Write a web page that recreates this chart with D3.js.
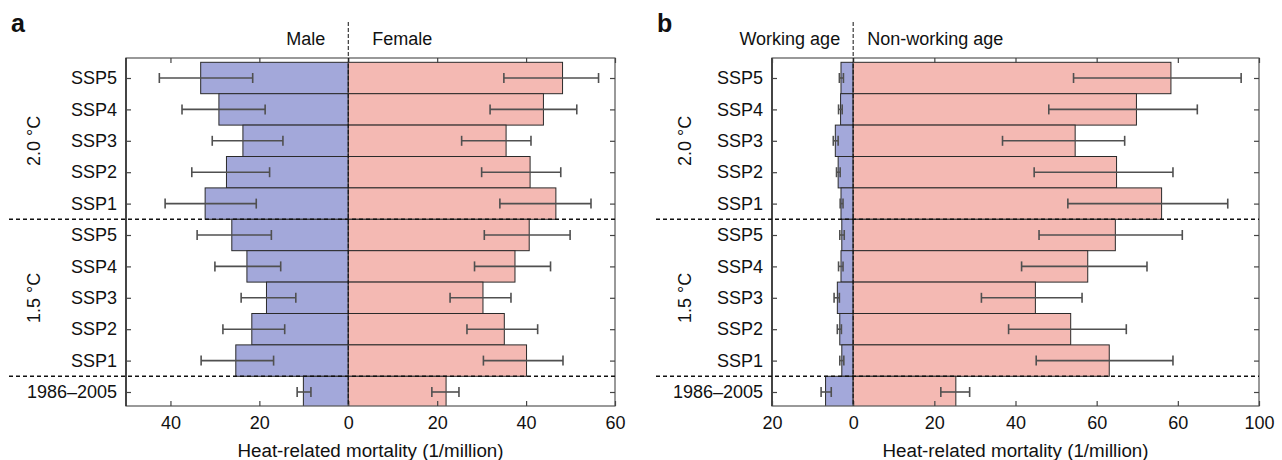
<!DOCTYPE html>
<html><head><meta charset="utf-8">
<script src="https://cdn.jsdelivr.net/npm/d3@7/dist/d3.min.js"></script>
<style>
html,body{margin:0;padding:0;background:#fff;}
svg{display:block;font-family:"Liberation Sans",Arial,Helvetica,sans-serif;}
</style></head>
<body>
<svg id="chart" width="1282" height="460"></svg>
<script>
// ---- data ----
const rows = ["SSP5","SSP4","SSP3","SSP2","SSP1","SSP5","SSP4","SSP3","SSP2","SSP1","1986–2005"];
const groups = ["2.0 °C","1.5 °C"];
const groupCenters = [2, 7];
const separators = [4.5, 9.5];

const male      = [33.2,29.1,23.7,27.4,32.2, 26.2,22.8,18.4,21.7,25.3, 10.1];
const maleLo    = [21.5,18.7,14.7,17.7,20.7, 17.3,15.2,11.8,14.3,16.8, 8.4];
const maleHi    = [42.5,37.4,30.6,35.2,41.2, 34.0,30.0,24.1,28.2,33.1, 11.5];
const female    = [48.2,43.9,35.5,40.9,46.7, 40.7,37.5,30.3,35.1,40.1, 22.0];
const femaleLo  = [35.0,31.9,25.5,30.0,34.1, 30.6,28.4,22.9,26.7,30.4, 18.8];
const femaleHi  = [56.3,51.4,41.1,47.8,54.6, 49.9,45.5,36.6,42.6,48.3, 24.9];

const working      = [3.0,3.1,4.4,3.7,3.0, 2.8,3.0,3.9,3.3,2.8, 6.8];
const workingLo    = [2.4,2.7,3.7,3.2,2.5, 2.2,2.5,3.4,2.9,2.3, 5.4];
const workingHi    = [3.4,3.6,4.9,4.1,3.2, 3.3,3.6,4.7,3.9,3.3, 7.9];
const nonWorking   = [78.3,69.8,54.7,64.9,76.0, 64.6,57.8,44.9,53.6,63.1, 25.3];
const nonWorkingLo = [54.3,48.2,36.8,44.6,52.9, 45.8,41.5,31.6,38.3,45.1, 21.6];
const nonWorkingHi = [95.6,84.8,66.9,78.8,92.3, 81.1,72.4,56.4,67.3,78.8, 28.7];

const ticksA = [-40,-20,0,20,40,60];
const tickLabelsA = ["40","20","0","20","40","60"];
const ticksB = [-20,0,20,40,60,80,100];
const tickLabelsB = ["20","0","20","40","60","60","100"];

const xTitle = "Heat-related mortality (1/million)";

// ---- layout ----
const panels = [
  {letter:"a", letterX:11, left:126, right:615, domain:[-50,60], ticks:ticksA, tickLabels:tickLabelsA,
   leftName:"Male", rightName:"Female", leftGap:23, rightGap:24, groupX:40, dashStart:9,
   L:male, LLo:maleLo, LHi:maleHi, R:female, RLo:femaleLo, RHi:femaleHi},
  {letter:"b", letterX:657, left:772, right:1259, domain:[-20,100], ticks:ticksB, tickLabels:tickLabelsB,
   leftName:"Working age", rightName:"Non-working age", leftGap:13, rightGap:14, groupX:691, dashStart:656,
   L:working, LLo:workingLo, LHi:workingHi, R:nonWorking, RLo:nonWorkingLo, RHi:nonWorkingHi}
];
const plotTop = 58, plotBottom = 406;
const y = d3.scaleLinear().domain([-0.637, 10.446]).range([plotTop, plotBottom]);
const FS = 18;
const blue = "#a3a8da", pink = "#f4b9b3";

const svg = d3.select("#chart");

panels.forEach((p, pi) => {
  const x = d3.scaleLinear().domain(p.domain).range([p.left, p.right]);
  const g = svg.append("g");
  const clipId = "clip" + pi;
  svg.append("clipPath").attr("id", clipId).append("rect")
    .attr("x", p.left).attr("y", plotTop).attr("width", p.right - p.left).attr("height", plotBottom - plotTop);

  const bars = g.append("g").attr("clip-path", `url(#${clipId})`);
  const idx = d3.range(rows.length);
  bars.selectAll("rect.l").data(idx).join("rect").attr("class","l")
    .attr("x", i => x(-p.L[i])).attr("width", i => x(0) - x(-p.L[i]))
    .attr("y", i => y(i - 0.5)).attr("height", i => y(i + 0.5) - y(i - 0.5))
    .attr("fill", blue).attr("stroke", "#2a2a2a").attr("stroke-width", 1);
  bars.selectAll("rect.r").data(idx).join("rect").attr("class","r")
    .attr("x", x(0)).attr("width", i => x(p.R[i]) - x(0))
    .attr("y", i => y(i - 0.5)).attr("height", i => y(i + 0.5) - y(i - 0.5))
    .attr("fill", pink).attr("stroke", "#2a2a2a").attr("stroke-width", 1);

  // error bars
  const err = g.append("g").attr("stroke", "#505050").attr("stroke-width", 1.6).attr("fill","none");
  const drawErr = (lo, hi, sign) => {
    idx.forEach(i => {
      const x1 = x(sign * lo[i]), x2 = x(sign * hi[i]), yc = y(i);
      err.append("line").attr("x1", x1).attr("x2", x2).attr("y1", yc).attr("y2", yc);
      err.append("line").attr("x1", x1).attr("x2", x1).attr("y1", yc - 5).attr("y2", yc + 5);
      err.append("line").attr("x1", x2).attr("x2", x2).attr("y1", yc - 5).attr("y2", yc + 5);
    });
  };
  drawErr(p.LLo, p.LHi, -1);
  drawErr(p.RLo, p.RHi, 1);

  // box
  g.append("rect").attr("x", p.left).attr("y", plotTop).attr("width", p.right - p.left).attr("height", plotBottom - plotTop)
    .attr("fill", "none").attr("stroke", "#555").attr("stroke-width", 1.2);
  g.append("line").attr("x1", p.left).attr("x2", p.left).attr("y1", plotTop).attr("y2", plotBottom)
    .attr("stroke", "#222").attr("stroke-width", 1.4);

  // axes (inward ticks)
  const fmt = d => p.tickLabels[p.ticks.indexOf(d)];
  const bx = g.append("g").attr("transform", `translate(0,${plotBottom})`)
    .call(d3.axisBottom(x).tickValues(p.ticks).tickFormat(fmt).tickSize(-5).tickPadding(10));
  const tx = g.append("g").attr("transform", `translate(0,${plotTop})`)
    .call(d3.axisTop(x).tickValues(p.ticks).tickFormat("").tickSize(-5));
  const ly = g.append("g").attr("transform", `translate(${p.left},0)`)
    .call(d3.axisLeft(y).tickValues(idx).tickFormat(i => rows[i]).tickSize(-5).tickPadding(9));
  const ry = g.append("g").attr("transform", `translate(${p.right},0)`)
    .call(d3.axisRight(y).tickValues(idx).tickFormat("").tickSize(-5));
  [bx, tx, ly, ry].forEach(a => {
    a.select(".domain").remove();
    a.selectAll(".tick line").attr("stroke", "#444").attr("stroke-width", 1.2);
    a.selectAll("text").attr("font-size", FS).attr("fill", "#111");
    a.attr("font-family", null).attr("font-size", null);
  });

  // separators
  separators.forEach(s => {
    g.append("line").attr("x1", p.dashStart).attr("x2", p.right).attr("y1", y(s)).attr("y2", y(s))
      .attr("stroke", "#111").attr("stroke-width", 1.6).attr("stroke-dasharray", "4,3");
  });
  // center dashed line
  g.append("line").attr("x1", x(0)).attr("x2", x(0)).attr("y1", 22).attr("y2", plotBottom)
    .attr("stroke", "#111").attr("stroke-width", 1).attr("stroke-dasharray", "4,2");

  // headers
  g.append("text").attr("x", x(0) - p.leftGap).attr("y", 45).attr("text-anchor", "end")
    .attr("font-size", FS).attr("fill", "#111").text(p.leftName);
  g.append("text").attr("x", x(0) + p.rightGap).attr("y", 45).attr("text-anchor", "start")
    .attr("font-size", FS).attr("fill", "#111").text(p.rightName);

  // group labels
  groups.forEach((gl, gi) => {
    g.append("text").attr("transform", `translate(${p.groupX},${y(groupCenters[gi])}) rotate(-90)`)
      .attr("text-anchor", "middle").attr("font-size", FS).attr("fill", "#111").text(gl);
  });

  // x title
  g.append("text").attr("x", (p.left + p.right) / 2).attr("y", 457).attr("text-anchor", "middle")
    .attr("font-size", 18.8).attr("fill", "#111").text(xTitle);

  // panel letter
  g.append("text").attr("x", p.letterX).attr("y", 32).attr("font-size", 25).attr("font-weight", "bold")
    .attr("fill", "#111").text(p.letter);
});
</script>
</body></html>
